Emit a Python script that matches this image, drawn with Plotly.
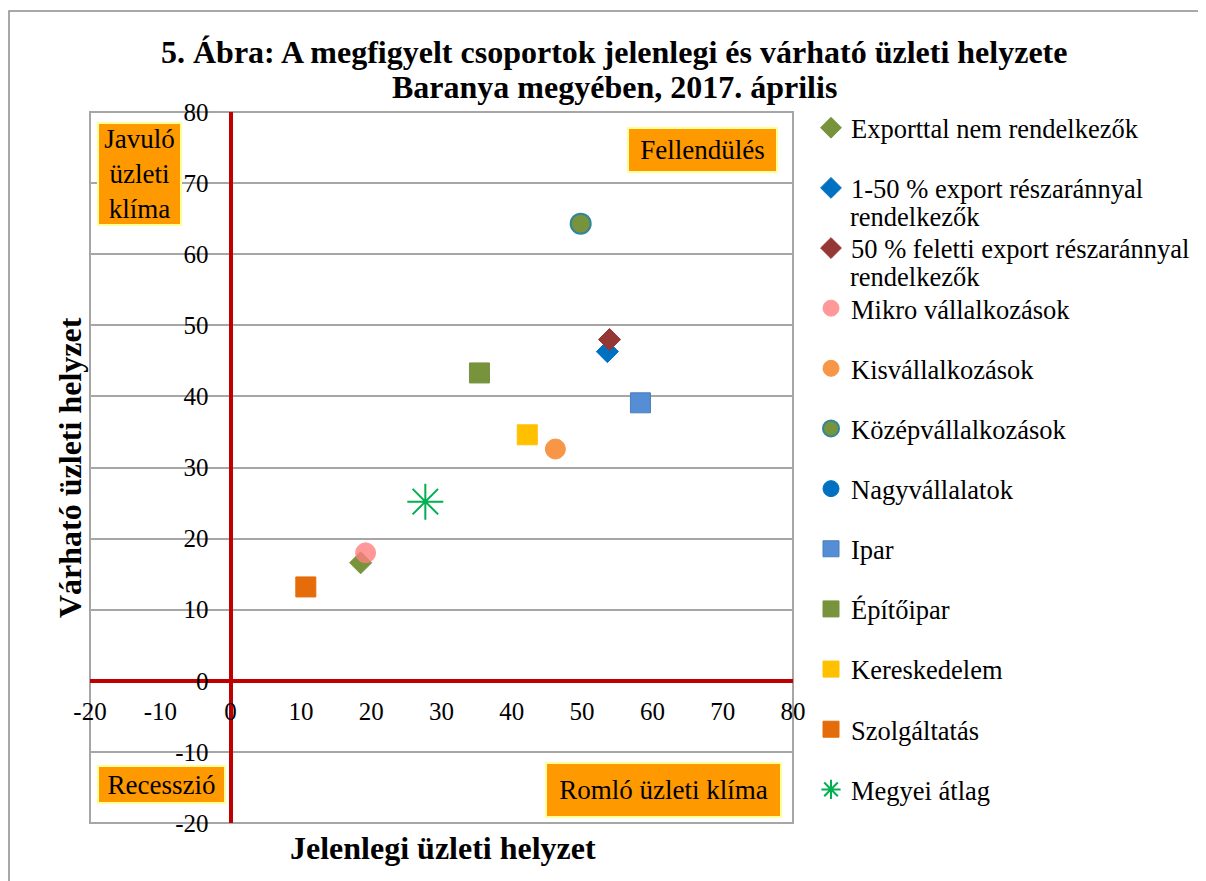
import plotly.graph_objects as go

series_names = [
    "Exporttal nem rendelkezők",
    "1-50 % export részaránnyal",
    "50 % feletti export részaránnyal",
    "Mikro vállalkozások",
    "Kisvállalkozások",
    "Középvállalkozások",
    "Nagyvállalatok",
    "Ipar",
    "Építőipar",
    "Kereskedelem",
    "Szolgáltatás",
    "Megyei átlag",
]
name_continuations = ["", "rendelkezők", "rendelkezők", "", "", "", "", "", "", "", "", ""]
current_values = [18.5, 53.6, 53.9, 19.2, 46.2, 49.8, None, 58.3, 35.4, 42.2, 10.7, 27.7]
expected_values = [16.6, 46.3, 48.0, 18.0, 32.6, 64.3, None, 39.1, 43.3, 34.6, 13.2, 25.2]

tick_values = [-20, -10, 0, 10, 20, 30, 40, 50, 60, 70, 80]
tick_labels = ["-20", "-10", "0", "10", "20", "30", "40", "50", "60", "70", "80"]

symbols = ["diamond", "diamond", "diamond", "circle", "circle", "circle", "circle",
           "square", "square", "square", "square", "asterisk-open"]
colors = ["#77933C", "#0070C0", "#953735", "#FF8080", "#F79646", "#77933C", "#0070C0",
          "#558ED5", "#77933C", "#FFC000", "#E46C0A", "#00B050"]
line_colors = ["#77933C", "#0070C0", "#953735", "#FF8080", "#F79646", "#31859C", "#0070C0",
               "#4A7EBB", "#77933C", "#FFC000", "#E46C0A", "#00B050"]
sizes = [17, 17, 17, 20, 20, 20, 20, 20, 20, 20, 20, 30]
opacities = [1, 1, 1, 0.8, 1, 1, 1, 1, 1, 1, 1, 1]

FONT = "Liberation Serif"

# plot area in screenshot pixels (page body adds an 8px offset)
L, T, W, H = 90, 112, 703, 711
OFF = 8


def px2paper(px, py):
    return (px - L) / W, (T + H - py) / H


fig = go.Figure()
for i, name in enumerate(series_names):
    lw = 2 if (symbols[i] == "asterisk-open" or i == 5) else 1
    fig.add_trace(go.Scatter(
        x=[current_values[i]], y=[expected_values[i]],
        mode="markers", name=name,
        legendgroup=f"g{i}",
        marker=dict(symbol=symbols[i], color=colors[i], size=sizes[i],
                    opacity=opacities[i],
                    line=dict(color=line_colors[i], width=lw)),
        hoverinfo="name+x+y",
    ))

lx, ly = px2paper(811, 104)
fig.update_layout(
    width=1206, height=881,
    paper_bgcolor="white", plot_bgcolor="white",
    margin=dict(l=L - OFF, r=1206 - (L + W - OFF), t=T - OFF, b=881 - (T + H - OFF)),
    font=dict(family=FONT, size=25, color="black"),
    showlegend=True,
    legend=dict(
        x=lx, xanchor="left", y=ly, yanchor="top",
        font=dict(family=FONT, size=26.5, color="black"),
        tracegroupgap=22.7, itemwidth=30, valign="middle",
        bgcolor="rgba(0,0,0,0)", maxheight=900,
    ),
    xaxis=dict(
        range=[-20, 80], tickvals=tick_values, ticktext=tick_labels, showgrid=False,
        zeroline=True, zerolinecolor="#C00000", zerolinewidth=4,
        anchor="free", position=0.2, showline=False,
        ticks="", ticklabelstandoff=13,
        tickfont=dict(family=FONT, size=25, color="black"),
    ),
    yaxis=dict(
        range=[-20, 80], tickvals=tick_values, ticktext=tick_labels, showgrid=True,
        gridcolor="#A6A6A6", gridwidth=2,
        zeroline=True, zerolinecolor="#C00000", zerolinewidth=4,
        anchor="free", position=0.2, showline=False,
        ticks="", ticklabelstandoff=22,
        tickfont=dict(family=FONT, size=25, color="black"),
    ),
)

# plot area border and outer chart border
fig.add_shape(type="rect", xref="paper", yref="paper", x0=0, x1=1, y0=0, y1=1,
              line=dict(color="#A6A6A6", width=2), layer="below")
bx0, by0 = px2paper(9, 11)
bx1, by1 = px2paper(1203, 900)
fig.add_shape(type="rect", xref="paper", yref="paper", x0=bx0, x1=bx1, y0=by1, y1=by0,
              line=dict(color="#8C8C8C", width=1.5), layer="below")

# title (two lines)
for text, cy in [("5. Ábra: A megfigyelt csoportok jelenlegi és várható üzleti helyzete", 52),
                 ("Baranya megyében, 2017. április", 87)]:
    tx, ty = px2paper(614, cy)
    fig.add_annotation(text=f"<b>{text}</b>", x=tx, y=ty, xref="paper", yref="paper",
                       showarrow=False, xanchor="center", yanchor="middle",
                       font=dict(family=FONT, size=32, color="black"))

box_style = dict(bgcolor="#FF9900", bordercolor="#FFFF99", borderwidth=2, borderpad=1,
                 showarrow=False, font=dict(family=FONT, size=27, color="black"),
                 xref="paper", yref="paper", xanchor="center", yanchor="middle")

for text, cx, cy, w, h in [
    ("Javuló<br>üzleti<br>klíma", 139.5, 174, 85, 104),
    ("Fellendülés", 702, 150, 151, 46),
    ("Recesszió", 161, 784.5, 129, 39),
    ("Romló üzleti klíma", 663.5, 790, 237, 56),
]:
    ax, ay = px2paper(cx, cy)
    fig.add_annotation(text=text, x=ax, y=ay, width=w - 6, height=h - 6, **box_style)

# second lines of the long legend entries
legend_first_y = 130
for i, cont in enumerate(name_continuations):
    if cont:
        ax, ay = px2paper(848, legend_first_y + 60 * i + 27)
        fig.add_annotation(text=cont, x=ax, y=ay, xref="paper", yref="paper",
                           showarrow=False, xanchor="left", yanchor="middle",
                           font=dict(family=FONT, size=26.5, color="black"))

tx, ty = px2paper(70, 468)
fig.add_annotation(text="<b>Várható üzleti helyzet</b>", x=tx, y=ty, xref="paper", yref="paper",
                   textangle=-90, showarrow=False, xanchor="center", yanchor="middle",
                   font=dict(family=FONT, size=32, color="black"))
tx, ty = px2paper(443, 848)
fig.add_annotation(text="<b>Jelenlegi üzleti helyzet</b>", x=tx, y=ty, xref="paper", yref="paper",
                   showarrow=False, xanchor="center", yanchor="middle",
                   font=dict(family=FONT, size=32, color="black"))

fig.write_html("out.html")
